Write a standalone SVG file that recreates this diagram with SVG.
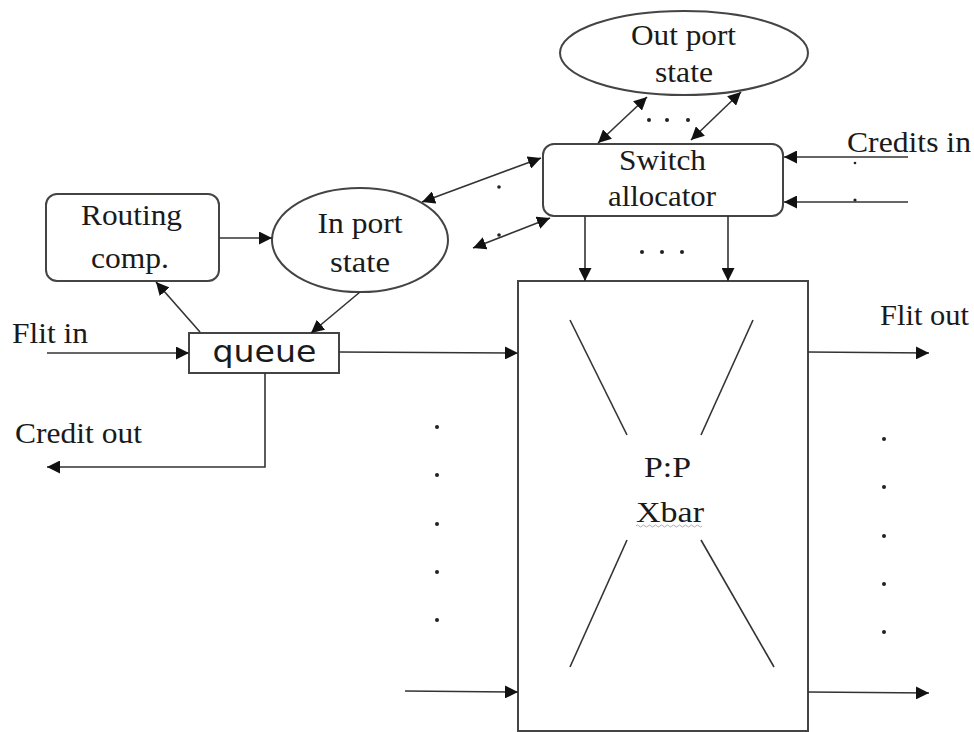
<svg xmlns="http://www.w3.org/2000/svg" width="974" height="732" viewBox="0 0 974 732">
<defs>
<marker id="ah" viewBox="0 0 10 10" refX="10" refY="5" markerWidth="13" markerHeight="13" markerUnits="userSpaceOnUse" orient="auto-start-reverse">
<path d="M0,0 L10,5 L0,10 z" fill="#111"/>
</marker>
<style>
.n{fill:#fff;stroke:#444;stroke-width:2}
.t{font-family:"Liberation Serif","Times New Roman",serif;font-size:29px;fill:#1a1a1a;text-anchor:middle}
.tl{font-family:"Liberation Serif","Times New Roman",serif;font-size:29px;fill:#1a1a1a}
.c{stroke:#333;stroke-width:1.6;fill:none}
.a{stroke:#333;stroke-width:1.6;fill:none;marker-end:url(#ah)}
.b{stroke:#333;stroke-width:1.6;fill:none;marker-end:url(#ah);marker-start:url(#ah)}
.d{fill:#222}
</style>
</defs>
<rect width="974" height="732" fill="#fff"/>
<g id="out-port-state">
<ellipse class="n" cx="684" cy="53" rx="124" ry="42"/>
<text class="t" x="683.5" y="45" textLength="105" lengthAdjust="spacingAndGlyphs">Out port</text>
<text class="t" x="684" y="82" textLength="58" lengthAdjust="spacingAndGlyphs">state</text>
</g>
<g id="switch-allocator">
<rect class="n" x="543" y="144" width="240" height="72" rx="11"/>
<text class="t" x="662.5" y="170" textLength="87" lengthAdjust="spacingAndGlyphs">Switch</text>
<text class="t" x="662" y="206" textLength="108" lengthAdjust="spacingAndGlyphs">allocator</text>
</g>
<g id="routing-comp">
<rect class="n" x="46" y="194" width="173" height="87" rx="11"/>
<text class="t" x="131.5" y="225" textLength="101" lengthAdjust="spacingAndGlyphs">Routing</text>
<text class="t" x="130" y="268" textLength="78" lengthAdjust="spacingAndGlyphs">comp.</text>
</g>
<g id="in-port-state">
<ellipse class="n" cx="360" cy="240" rx="88" ry="52"/>
<text class="t" x="360" y="233" textLength="85" lengthAdjust="spacingAndGlyphs">In port</text>
<text class="t" x="360" y="272" textLength="60" lengthAdjust="spacingAndGlyphs">state</text>
</g>
<g id="queue">
<rect class="n" x="189" y="333" width="150" height="40"/>
<text x="264.5" y="362" font-family="'DejaVu Sans',sans-serif" font-size="30" fill="#1a1a1a" text-anchor="middle" textLength="104" lengthAdjust="spacingAndGlyphs">queue</text>
</g>
<g id="xbar">
<rect class="n" x="518" y="281" width="290" height="450"/>
<g class="c">
<line x1="570" y1="320" x2="627" y2="435"/>
<line x1="753" y1="320" x2="701" y2="435"/>
<line x1="627" y1="540" x2="570" y2="667"/>
<line x1="701" y1="540" x2="774" y2="667"/>
</g>
<text class="t" x="667.5" y="477" textLength="47" lengthAdjust="spacingAndGlyphs">P:P</text>
<text class="t" x="670" y="522" textLength="68" lengthAdjust="spacingAndGlyphs">Xbar</text>
<path d="M636,526 q1.5,-2 3,0 t3,0 t3,0 t3,0 t3,0 t3,0 t3,0 t3,0 t3,0 t3,0 t3,0 t3,0 t3,0 t3,0 t3,0 t3,0 t3,0 t3,0 t3,0 t3,0 t3,0 t3,0" fill="none" stroke="#999" stroke-width="0.8"/>
</g>
<g id="labels">
<text class="tl" x="12" y="343" textLength="76" lengthAdjust="spacingAndGlyphs">Flit in</text>
<text class="tl" x="15" y="443" textLength="127" lengthAdjust="spacingAndGlyphs">Credit out</text>
<text class="tl" x="847" y="152" textLength="124" lengthAdjust="spacingAndGlyphs">Credits in</text>
<text class="tl" x="880" y="325" textLength="89" lengthAdjust="spacingAndGlyphs">Flit out</text>
</g>
<g id="connectors">
<line class="b" x1="598" y1="143" x2="647" y2="97"/>
<line class="b" x1="691" y1="140" x2="741" y2="92"/>
<line class="a" x1="908" y1="157" x2="784" y2="157"/>
<line class="a" x1="908" y1="202" x2="784" y2="202"/>
<line class="b" x1="541" y1="158" x2="422" y2="202"/>
<line class="b" x1="550" y1="218" x2="473" y2="248"/>
<line class="a" x1="585" y1="216" x2="585" y2="281"/>
<line class="a" x1="728" y1="216" x2="728" y2="281"/>
<line class="a" x1="219" y1="238" x2="272" y2="238"/>
<line class="a" x1="200" y1="332" x2="156" y2="282"/>
<line class="a" x1="360" y1="292" x2="311" y2="333"/>
<line class="a" x1="47" y1="353" x2="189" y2="353"/>
<line class="a" x1="339" y1="352" x2="518" y2="353"/>
<polyline class="a" points="265,373 265,467 47,467"/>
<line class="a" x1="405" y1="691" x2="518" y2="692"/>
<line class="a" x1="808" y1="352" x2="929" y2="353"/>
<line class="a" x1="808" y1="692" x2="929" y2="693"/>
</g>
<g id="dots">
<circle class="d" cx="649" cy="120" r="2"/><circle class="d" cx="667" cy="120" r="2"/><circle class="d" cx="688" cy="120" r="2"/>
<circle class="d" cx="642" cy="252" r="2"/><circle class="d" cx="662" cy="252" r="2"/><circle class="d" cx="682" cy="252" r="2"/>
<circle class="d" cx="499" cy="187" r="1.8"/><circle class="d" cx="499" cy="235" r="1.8"/>
<circle class="d" cx="855" cy="163" r="1.3"/><circle class="d" cx="855" cy="200" r="1.6"/>
<circle class="d" cx="437" cy="427" r="2"/><circle class="d" cx="437" cy="475" r="2"/><circle class="d" cx="437" cy="524" r="2"/><circle class="d" cx="437" cy="572" r="2"/><circle class="d" cx="437" cy="620" r="2"/>
<circle class="d" cx="884" cy="439" r="2"/><circle class="d" cx="884" cy="487" r="2"/><circle class="d" cx="884" cy="536" r="2"/><circle class="d" cx="884" cy="584" r="2"/><circle class="d" cx="884" cy="632" r="2"/>
</g>
</svg>
